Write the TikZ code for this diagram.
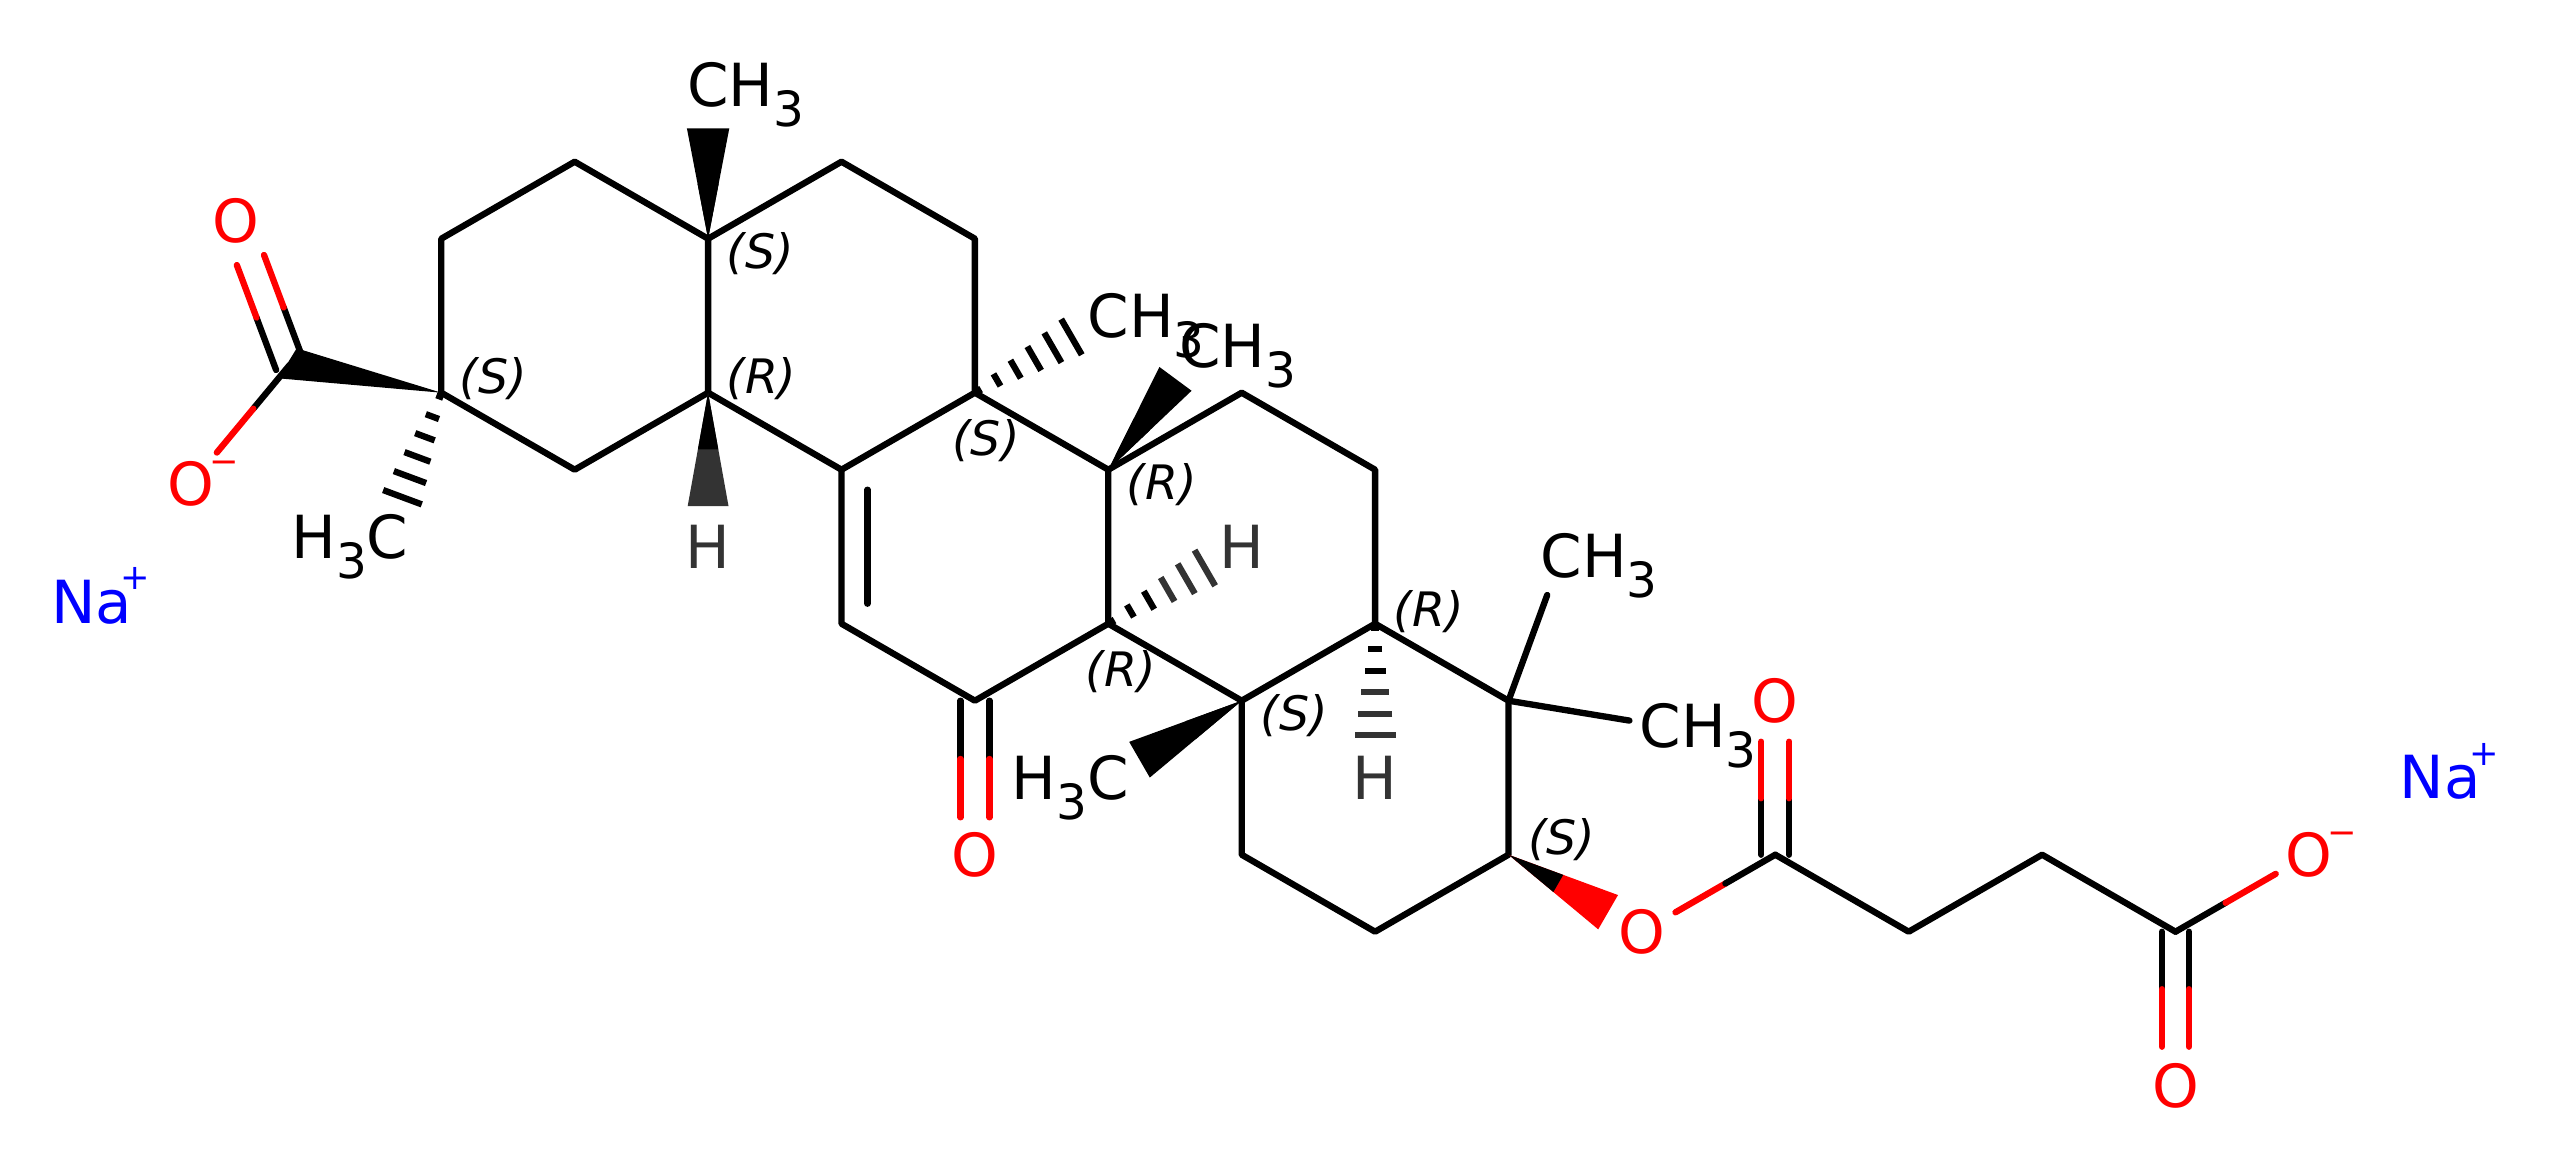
\documentclass[tikz,border=0pt]{standalone}
\usepackage{fontspec}
\setmainfont{DejaVu Sans}[ItalicFont={DejaVu Sans Oblique}]
\usetikzlibrary{calc}
\definecolor{ored}{RGB}{255,0,0}
\definecolor{nablue}{RGB}{0,0,255}
\definecolor{hgray}{RGB}{51,51,51}
\newcommand\tsub[1]{\raisebox{-5.7pt}{\fontsize{13.8pt}{15pt}\selectfont #1}}
\newcommand\chg[3]{\rlap{\kern#1\raisebox{#2}{\fontsize{10pt}{12pt}\selectfont #3}}}
\tikzset{
  bond/.style={line width=1.8pt, line cap=round, line join=round},
  hashst/.style={line width=1.8pt, line cap=butt},
  lab/.style={anchor=base, inner sep=0pt, outer sep=0pt, yshift=-6.2pt, font=\fontsize{16.9pt}{19pt}\selectfont},
  stereo/.style={inner sep=0pt, font=\fontsize{13.5pt}{15pt}\selectfont\itshape},
}
% single bond, shortened ends, two colour halves
\newcommand\sbond[6]{%
  \path ($(#1)!{#3*0.01cm}!(#2)$) coordinate (bp) ($(#2)!{#4*0.01cm}!(#1)$) coordinate (bq)
        ($(bp)!.5!(bq)$) coordinate (bm);
  \draw[bond,#5] (bp) -- (bm);
  \draw[bond,#6] (bm) -- (bq);}
% symmetric double bond
\newcommand\dbond[7]{%
  \path ($(#1)!{#3*0.01cm}!(#2)$) coordinate (bp) ($(#2)!{#4*0.01cm}!(#1)$) coordinate (bq);
  \foreach \aa/\bb in {90/-90,-90/90}{
    \path ($(bp)!{#7*0.01cm}!\aa:(bq)$) coordinate (dp) ($(bq)!{#7*0.01cm}!\bb:(bp)$) coordinate (dq)
          ($(dp)!.5!(dq)$) coordinate (dm);
    \draw[bond,#5] (dp) -- (dm);
    \draw[bond,#6] (dm) -- (dq);}}
% solid wedge
\newcommand\wbond[6]{%
  \path ($(#1)!{#3*0.01cm}!(#2)$) coordinate (wm);
  \path ($(wm)!{#4*0.01cm}!90:(#2)$) coordinate (wa) ($(wm)!{#4*0.01cm}!-90:(#2)$) coordinate (wb);
  \fill[#6] (#1) -- (wa) -- (wb) -- cycle;
  \fill[#5] (#1) -- ($(#1)!.5!(wa)$) -- ($(#1)!.5!(wb)$) -- cycle;}
% hashed wedge
\newcommand\hbond[4]{%
  \foreach \dd in {4,25.5,47,68.5,90,111.5}{
    \pgfmathsetmacro\ww{3+17.5*\dd/111}
    \ifdim\dd pt<57pt \def\hcol{#3}\else\def\hcol{#4}\fi
    \path ($(#1)!{\dd*0.01cm}!(#2)$) coordinate (hc);
    \draw[hashst,\hcol] ($(hc)!{\ww*0.01cm}!90:(#2)$) -- ($(hc)!{\ww*0.01cm}!-90:(#2)$);}}
\begin{document}
\begin{tikzpicture}[x=0.01cm,y=-0.01cm]
\fill[white] (0,0) rectangle (2559,1172);
\path[use as bounding box] (0,0) rectangle (2559,1172);
% atoms
\coordinate (a1) at (441.3,238.7);
\coordinate (a2) at (574.7,161.7);
\coordinate (a3) at (708.1,238.7);
\coordinate (a4) at (708.1,392.7);
\coordinate (a5) at (574.7,469.7);
\coordinate (a6) at (441.3,392.7);
\coordinate (b2) at (841.5,161.7);
\coordinate (b3) at (974.9,238.7);
\coordinate (b4) at (974.9,392.7);
\coordinate (b5) at (841.5,469.7);
\coordinate (c3) at (1108.3,469.7);
\coordinate (c4) at (1108.3,623.7);
\coordinate (c5) at (974.9,700.7);
\coordinate (c6) at (841.5,623.7);
\coordinate (d2) at (1241.7,392.7);
\coordinate (d3) at (1375.1,469.7);
\coordinate (d4) at (1375.1,623.7);
\coordinate (d5) at (1241.7,700.7);
\coordinate (e2) at (1508.5,700.7);
\coordinate (e3) at (1508.5,854.7);
\coordinate (e4) at (1375.1,931.7);
\coordinate (e5) at (1241.7,854.7);
\coordinate (o1) at (1641.9,931.7);
\coordinate (f1) at (1775.3,854.7);
\coordinate (o2) at (1775.3,700.7);
\coordinate (f2) at (1908.7,931.7);
\coordinate (f3) at (2042.1,854.7);
\coordinate (f4) at (2175.5,931.7);
\coordinate (o3) at (2175.5,1085.7);
\coordinate (o4) at (2308.9,854.7);
\coordinate (cc) at (289.7,364.9);
\coordinate (o5) at (235.7,220.7);
\coordinate (o6) at (191.3,483.3);
\coordinate (o7) at (974.9,854.7);
\coordinate (m0) at (387.7,537);
\coordinate (m1) at (708.1,84.7);
\coordinate (m2) at (1108.3,315.7);
\coordinate (m3) at (1200,345.7);
\coordinate (m4) at (1108.3,777.7);
\coordinate (m5) at (1561.5,556);
\coordinate (m6) at (1660.5,725.7);
\coordinate (h1) at (1241.7,546.7);
\coordinate (h2) at (1375.1,777.7);
\coordinate (h3) at (708.1,546.7);
\coordinate (na1) at (91.7,601.3);
\coordinate (na2) at (2440,776.7);
% rings
\draw[bond] (a1) -- (a2) -- (a3) -- (a4) -- (a5) -- (a6) -- cycle;
\draw[bond] (a3) -- (b2) -- (b3) -- (b4) -- (b5) -- (a4);
\draw[bond] (b4) -- (c3) -- (c4) -- (c5) -- (c6) -- (b5);
\draw[bond] ($(b5)+(26,20)$) -- ($(c6)+(26,-20)$);
\draw[bond] (c3) -- (d2) -- (d3) -- (d4) -- (d5) -- (c4);
\draw[bond] (d4) -- (e2) -- (e3) -- (e4) -- (e5) -- (d5);
\draw[bond] (f1) -- (f2) -- (f3) -- (f4);
% substituents
\sbond{e2}{m5}{0}{41.5}{black}{black}
\sbond{e2}{m6}{0}{31.5}{black}{black}
\sbond{cc}{o6}{0}{40}{black}{ored}
\sbond{o1}{f1}{38.8}{0}{ored}{black}
\sbond{f4}{o4}{0}{38.3}{black}{ored}
\dbond{c5}{o7}{0}{37.4}{black}{ored}{14.5}
\dbond{f1}{o2}{0}{41}{black}{ored}{14}
\dbond{f4}{o3}{0}{39}{black}{ored}{13.5}
\dbond{cc}{o5}{0}{42}{black}{ored}{14.5}
\fill (a6) -- ($(cc)+(-11.4,13.4)$) -- ($(cc)+(7,-16.6)$) -- cycle;
\wbond{a3}{m1}{110.4}{21.2}{black}{black}
\wbond{a4}{h3}{113.3}{20.4}{black}{hgray}
\wbond{c3}{m3}{113}{20}{black}{black}
\wbond{d5}{m4}{118}{20.6}{black}{black}
\wbond{e3}{o1}{115}{19.8}{black}{ored}
\hbond{a6}{m0}{black}{black}
\hbond{b4}{m2}{black}{black}
\hbond{c4}{h1}{black}{hgray}
\hbond{d4}{h2}{black}{hgray}
% atom labels
\node[lab] (lm1) at (m1) {\phantom{H\tsub{3}}CH\tsub{3}};
\node[lab] (lm2) at (m2) {\phantom{H\tsub{3}}CH\tsub{3}};
\node[lab] (lm3) at (m3) {\phantom{H\tsub{3}}CH\tsub{3}};
\node[lab] (lm5) at (m5) {\phantom{H\tsub{3}}CH\tsub{3}};
\node[lab] (lm6) at (m6) {\phantom{H\tsub{3}}CH\tsub{3}};
\node[lab] (lm0) at (m0) {H\tsub{3}C\phantom{H\tsub{3}}};
\node[lab] (lm4) at (m4) {H\tsub{3}C\phantom{H\tsub{3}}};
\node[lab,text=hgray] (lh1) at (h1) {H};
\node[lab,text=hgray] (lh2) at (h2) {H};
\node[lab,text=hgray] (lh3) at (h3) {H};
\node[lab,text=ored] (lo1) at (o1) {O};
\node[lab,text=ored] (lo2) at (o2) {O};
\node[lab,text=ored] (lo3) at (o3) {O};
\node[lab,text=ored] (lo5) at (o5) {O};
\node[lab,text=ored] (lo7) at (o7) {O};
\node[lab,text=ored] (lo4) at (o4) {O\chg{-1.45pt}{9.1pt}{−}};
\node[lab,text=ored] (lo6) at (o6) {O\chg{-1.45pt}{9.1pt}{−}};
\node[lab,text=nablue] (lna1) at (na1) {Na\chg{-3.2pt}{9.5pt}{+}};
\node[lab,text=nablue] (lna2) at (na2) {Na\chg{-3.2pt}{9.5pt}{+}};
% stereo labels
\node[stereo] (sa3) at (760.5,253.5) {(S)};
\node[stereo] (sa6) at (493.5,379) {(S)};
\node[stereo] (sa4) at (761.5,379) {(R)};
\node[stereo] (sb4) at (986,441) {(S)};
\node[stereo] (sc3) at (1161.5,485) {(R)};
\node[stereo] (sc4) at (1121,672) {(R)};
\node[stereo] (sd5) at (1294.5,716) {(S)};
\node[stereo] (sd4) at (1428.5,612) {(R)};
\node[stereo] (se3) at (1561.7,840) {(S)};
\end{tikzpicture}
\end{document}
